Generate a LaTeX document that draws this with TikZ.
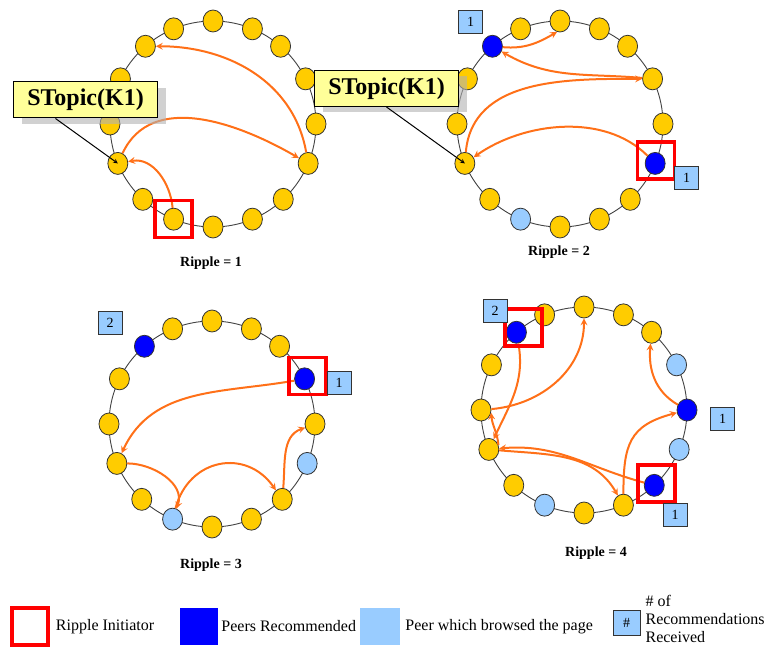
\documentclass[tikz,border=0pt]{standalone}
\usepackage{fontspec}
\setmainfont{Liberation Serif}
\usetikzlibrary{shapes.geometric,positioning}

\definecolor{peeryellow}{HTML}{FFCC00}
\definecolor{recblue}{HTML}{0000FF}
\definecolor{browseblue}{HTML}{99CCFF}
\definecolor{flowcolor}{RGB}{255,112,24}
\definecolor{notegold}{HTML}{FFFF99}

\begin{document}
\begin{tikzpicture}[x=1pt, y=1pt, >=stealth,
  peer/.style={ellipse, draw=black!80, line width=0.8pt, fill=peeryellow,
    minimum width=20pt, minimum height=22pt, inner sep=0pt},
  recommended/.style={fill=recblue},
  browsed/.style={fill=browseblue},
  peer 2-14/.style={recommended}, peer 2-5/.style={recommended},
  peer 2-9/.style={browsed},
  peer 3-3/.style={recommended}, peer 3-14/.style={recommended},
  peer 3-5/.style={browsed}, peer 3-9/.style={browsed},
  peer 4-4/.style={recommended}, peer 4-6/.style={recommended},
  peer 4-14/.style={recommended},
  peer 4-3/.style={browsed}, peer 4-5/.style={browsed}, peer 4-9/.style={browsed},
  ring line/.style={draw=black!75, line width=0.9pt},
  flow/.style={->, draw=flowcolor, line width=2pt},
  initiator/.style={draw=red, line width=3.5pt, minimum size=37pt, inner sep=0pt},
  badge/.style={draw=black!80, fill=browseblue, line width=0.8pt, minimum width=24pt,
    minimum height=23pt, inner sep=0pt, font=\fontsize{14}{14}\selectfont},
  topic/.style={draw, line width=1pt, fill=notegold, minimum width=144pt,
    minimum height=36pt, font=\fontsize{24}{24}\selectfont\bfseries},
  topic shade/.style={fill=black!30, opacity=.6, minimum width=144pt, minimum height=36pt},
  pointer/.style={->, line width=1pt},
  caption/.style={font=\fontsize{14}{14}\selectfont\bfseries},
  legend/.style={inner sep=0pt, font=\fontsize{16}{18}\selectfont}
]
  \useasboundingbox (0,0) rectangle (765,646);

  % the four overlay rings, 16 peers each
  \foreach \r/\cx/\cy in {1/213/522, 2/560/522, 3/212/222, 4/584/236} {
    \coordinate (ring-\r) at (\cx,\cy);
    \draw[ring line] (ring-\r) circle (103);
    \foreach \a [count=\k from 0] in {90,67.5,49,26,0,-22.5,-47,-67.5,-90,-112.5,-133,-157.5,180,154,131,112.5}
      \node[peer, peer \r-\k/.try] (r\r-\k) at ([shift={(\cx,\cy)}]\a:103) {};
  }

  % ripple 1
  \draw[flow] (r1-9) to[out=95, in=10] (r1-11);
  \draw[flow] (r1-11) to[out=65, in=150] (r1-5);
  \draw[flow] (r1-5) to[out=100, in=0] (r1-14);

  % ripple 2
  \draw[flow] (r2-5) to[out=135, in=35, looseness=.9] (r2-11);
  \draw[flow] (r2-11) to[out=85, in=180] (r2-3);
  \draw[flow] (r2-3) to[out=175, in=-30] (r2-14);
  \draw[flow] (r2-14) to[out=-5, in=-150] (r2-0.-105);

  % ripple 3
  \draw[flow] (r3-3) to[out=190, in=65] (r3-11);
  \draw[flow] (r3-11) to[out=0, in=70] (r3-9);
  \draw[flow] (r3-9) to[out=75, in=125, looseness=1.3] (r3-6);
  \draw[flow] (r3-6) to[out=85, in=200] (r3-4);

  % ripple 4
  \draw[flow] (r4-14) to[out=-80, in=65] (r4-11);
  \draw[flow] (r4-11.25) to[out=95, in=-85] (r4-12.-15);
  \draw[flow] (r4-12) to[out=5, in=-90] (r4-0);
  \draw[flow] (r4-6) to[out=165, in=5] (r4-11);
  \draw[flow] (r4-11) to[out=-5, in=120] (r4-7);
  \draw[flow] (r4-7) to[out=90, in=195, looseness=1.3] (r4-4);
  \draw[flow] (r4-4) to[out=150, in=-95] (r4-2);

  % ripple initiators
  \node[initiator] (init-1) at (r1-9) {};
  \node[initiator] (init-2) at ([shift={(1,3)}]r2-5) {};
  \node[initiator] (init-3) at ([shift={(3,3)}]r3-3) {};
  \node[initiator] (init-4a) at ([shift={(7,5)}]r4-14) {};
  \node[initiator] (init-4b) at ([shift={(2,2)}]r4-6) {};

  % recommendation counters
  \node[badge] (count-2a) at (470.5,624.5) {1};
  \node[badge] (count-2b) at (686.5,468) {1};
  \node[badge] (count-3a) at (110,323.5) {2};
  \node[badge] (count-3b) at (339,263) {1};
  \node[badge] (count-4a) at (495,335.5) {2};
  \node[badge] (count-4b) at (722.5,227) {1};
  \node[badge] (count-4c) at (675,131) {1};

  % topic call-outs
  \node[topic shade] (topic-1-shade) at (93.5,539.5) {};
  \node[topic] (topic-1) at (85.5,546) {STopic(K1)};
  \draw[pointer] ([xshift=-30]topic-1.south) -- (r1-11.center);
  \node[topic shade] (topic-2-shade) at (394.5,551.5) {};
  \node[topic] (topic-2) at (386.5,557.5) {STopic(K1)};
  \draw[pointer] (topic-2.south) -- (r2-11.center);

  \node[caption] (ripple-1) at (211,383) {Ripple = 1};
  \node[caption] (ripple-2) at (559,394) {Ripple = 2};
  \node[caption] (ripple-3) at (211,81) {Ripple = 3};
  \node[caption] (ripple-4) at (596,93) {Ripple = 4};

  % legend
  \node[initiator, minimum width=36pt] (key-init) at (30,19.5) {};
  \node[legend, right=6pt of key-init] (key-init-label) {Ripple Initiator};
  \node[fill=recblue, minimum width=38pt, minimum height=37pt] (key-rec) at (199,19.5) {};
  \node[legend, right=3pt of key-rec] (key-rec-label) {Peers Recommended};
  \node[fill=browseblue, minimum width=40pt, minimum height=37pt] (key-browse) at (380,19.5) {};
  \node[legend, right=5pt of key-browse] (key-browse-label) {Peer which browsed the page};
  \node[badge, minimum width=27pt, minimum height=25pt] (key-count) at (626.5,23.5) {\#};
  \node[legend, right=5pt of key-count, yshift=4pt, align=left] (key-count-label)
    {\# of\\Recommendations\\Received};
\end{tikzpicture}
\end{document}
